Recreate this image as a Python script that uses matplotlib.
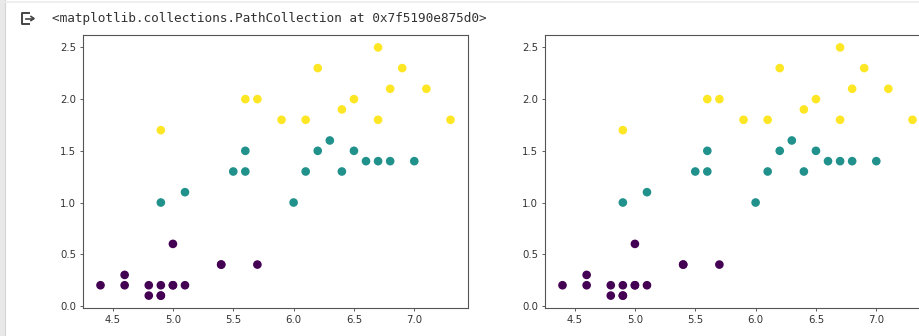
import matplotlib.pyplot as plt
from matplotlib.lines import Line2D

# iris subset: sepal length vs petal width, coloured by species
sepal_length = [4.4, 4.6, 4.6, 4.8, 4.8, 4.9, 4.9, 4.9, 5.0, 5.0, 5.0, 5.1, 5.4, 5.4, 5.7,
                5.5, 5.6, 5.6, 6.1, 6.2, 6.3, 6.4, 6.5, 6.6, 6.7, 6.8, 7.0, 4.9, 5.1, 6.0,
                4.9, 5.6, 5.7, 5.9, 6.1, 6.2, 6.4, 6.5, 6.7, 6.7, 6.8, 6.9, 7.1, 7.3]
petal_width = [0.2, 0.3, 0.2, 0.2, 0.1, 0.2, 0.1, 0.1, 0.2, 0.2, 0.6, 0.2, 0.4, 0.4, 0.4,
               1.3, 1.3, 1.5, 1.3, 1.5, 1.6, 1.3, 1.5, 1.4, 1.4, 1.4, 1.4, 1.0, 1.1, 1.0,
               1.7, 2.0, 2.0, 1.8, 1.8, 2.3, 1.9, 2.0, 2.5, 1.8, 2.1, 2.3, 2.1, 1.8]
species = [0] * 15 + [1] * 15 + [2] * 14

header = '<matplotlib.collections.PathCollection at 0x7f5190e875d0>'

W, H = 920, 336
fig = plt.figure(figsize=(W / 100, H / 100), dpi=100)


def px(x0, y0, x1, y1):
    # pixel box (top-left origin) -> figure fraction rect
    return [x0 / W, 1 - y1 / H, (x1 - x0) / W, (y1 - y0) / H]


# notebook output frame
fig.patches.append(plt.Rectangle((0, 0), 4 / W, 1, transform=fig.transFigure,
                                 color='#e8e8e8', zorder=0))
fig.lines.append(Line2D([5 / W, 5 / W], [0, 1], transform=fig.transFigure,
                        color='#d4d4d4', lw=0.8))
fig.lines.append(Line2D([0, 1], [1 - 1.5 / H, 1 - 1.5 / H], transform=fig.transFigure,
                        color='#ececec', lw=1.2))

# output icon
icon = [((29, 13), (22, 13), (22, 24), (29, 24))]
for pts in icon:
    xs = [p[0] / W for p in pts]
    ys = [1 - p[1] / H for p in pts]
    fig.lines.append(Line2D(xs, ys, transform=fig.transFigure, color='#444444', lw=1.4))
fig.lines.append(Line2D([26 / W, 33 / W], [1 - 18.5 / H] * 2, transform=fig.transFigure,
                        color='#444444', lw=1.2))
fig.lines.append(Line2D([31 / W, 34 / W, 31 / W],
                        [1 - 16.5 / H, 1 - 18.5 / H, 1 - 20.5 / H],
                        transform=fig.transFigure, color='#444444', lw=1.2))

fig.text(52 / W, 1 - 18.5 / H, header, family='DejaVu Sans Mono', fontsize=9.2,
         color='#333333', va='center', ha='left')

boxes = [(83, 35, 468, 308), (545, 35, 930, 308)]
for b in boxes:
    ax = fig.add_axes(px(*b))
    ax.scatter(sepal_length, petal_width, c=species, cmap='viridis', s=27)
    ax.set_xlim(4.255, 7.445)
    ax.set_ylim(-0.02, 2.62)
    ax.set_xticks([4.5, 5.0, 5.5, 6.0, 6.5, 7.0])
    ax.set_yticks([0.0, 0.5, 1.0, 1.5, 2.0, 2.5])
    ax.tick_params(labelsize=7.3, length=2.5, width=0.6, pad=2.5,
                   colors='#444444', labelcolor='#333333')
    for s in ax.spines.values():
        s.set_color('#555555')
        s.set_linewidth(0.8)

fig.savefig('out.png', dpi=100)
